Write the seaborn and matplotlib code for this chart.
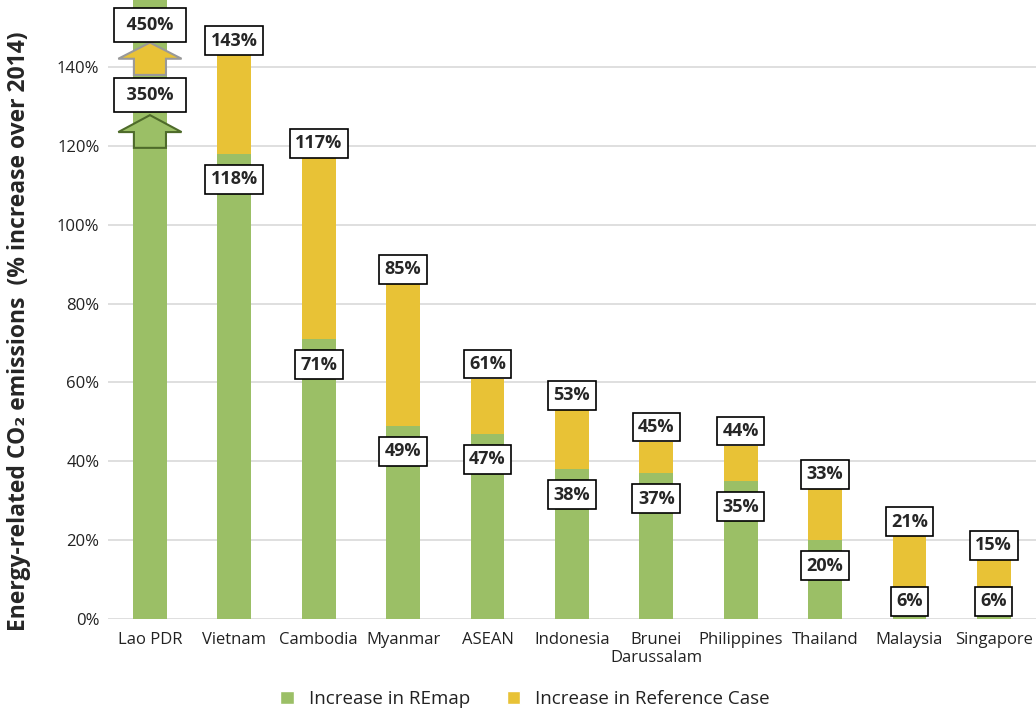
import matplotlib
matplotlib.use("Agg")
import matplotlib.pyplot as plt
import seaborn as sns
import pandas as pd
from matplotlib.patches import FancyArrow, Patch

# data
countries = ["Lao PDR", "Vietnam", "Cambodia", "Myanmar", "ASEAN", "Indonesia",
             "Brunei\nDarussalam", "Philippines", "Thailand", "Malaysia", "Singapore"]
remap = [350, 118, 71, 49, 47, 38, 37, 35, 20, 6, 6]
reference = [450, 143, 117, 85, 61, 53, 45, 44, 33, 21, 15]
y_ticks = [0, 20, 40, 60, 80, 100, 120, 140]

GREEN = "#9BBF66"
YELLOW = "#E8C236"
FONTS = ["Open Sans", "DejaVu Sans"]

sns.set_style("white")
plt.rcParams['font.family'] = FONTS

df = pd.DataFrame({"country": countries, "remap": remap, "reference": reference})

fig = plt.figure(figsize=(10.36, 7.12), dpi=100)
ax = fig.add_axes([0.104, 0.1306, 0.896, 0.8694])

sns.barplot(data=df, x="country", y="reference", color=YELLOW, width=0.4,
            saturation=1, linewidth=0, ax=ax, zorder=2)
sns.barplot(data=df, x="country", y="remap", color=GREEN, width=0.4,
            saturation=1, linewidth=0, ax=ax, zorder=3)

ax.set_ylim(0, 157)
ax.set_xlim(-0.5, len(countries) - 0.5)
ax.set_yticks(y_ticks)
ax.set_yticklabels([f"{t}%" for t in y_ticks])
ax.grid(axis='y', color="#D9D9D9", linewidth=1.2, zorder=0)
ax.set_axisbelow(True)
for s in ax.spines.values():
    s.set_visible(False)
ax.tick_params(axis='both', length=0, labelsize=12, labelcolor="#222222")
ax.tick_params(axis='x', pad=9)
ax.tick_params(axis='y', pad=6)
ax.set_xlabel("")
ax.set_ylabel("Energy-related CO\u2082 emissions  (% increase over 2014)",
              fontsize=16.5, fontweight='bold')
ax.yaxis.set_label_coords(-0.083, 0.465)

box = dict(boxstyle="square,pad=0.3", facecolor="white", edgecolor="black", linewidth=1.2)
lbl = dict(fontsize=13, fontweight='bold', ha='center', zorder=6, clip_on=False)

# regular bars: reference label sits on top, REmap label just under the split
for i in range(1, len(countries)):
    ax.annotate(f"{reference[i]}%", (i, reference[i]), xytext=(0, 4),
                textcoords="offset points", va='bottom', bbox=box, **lbl)
    y_mid = max(remap[i] - 6.5, 4.5)
    ax.text(i, y_mid, f"{remap[i]}%", va='center', bbox=box, **lbl)

# Lao PDR: off-scale values shown with block arrows
ax.add_patch(FancyArrow(0, 119.5, 0, 8.3, width=0.38, head_width=0.75, head_length=4.3,
                        length_includes_head=True, facecolor=GREEN, edgecolor="#4E6B2A",
                        linewidth=1.5, zorder=5))
ax.add_patch(FancyArrow(0, 138, 0, 8.2, width=0.38, head_width=0.75, head_length=4.1,
                        length_includes_head=True, facecolor=YELLOW, edgecolor="#999999",
                        linewidth=1.5, zorder=5))
bigbox = dict(boxstyle="square,pad=0.45", facecolor="white", edgecolor="black", linewidth=1.2)
ax.text(0, 132.9, f" {remap[0]}% ", va='center', bbox=bigbox, **lbl)
ax.text(0, 150.6, f" {reference[0]}% ", va='center', bbox=bigbox, **lbl)

handles = [Patch(facecolor=GREEN, label="Increase in REmap"),
           Patch(facecolor=YELLOW, label="Increase in Reference Case")]
fig.legend(handles=handles, loc='lower center', bbox_to_anchor=(0.507, -0.018), ncol=2,
           frameon=False, fontsize=13.5, handlelength=0.7, handleheight=0.7,
           columnspacing=2.0, handletextpad=0.8, labelcolor="#222222")

fig.savefig("out.png", dpi=100)
plt.close(fig)
